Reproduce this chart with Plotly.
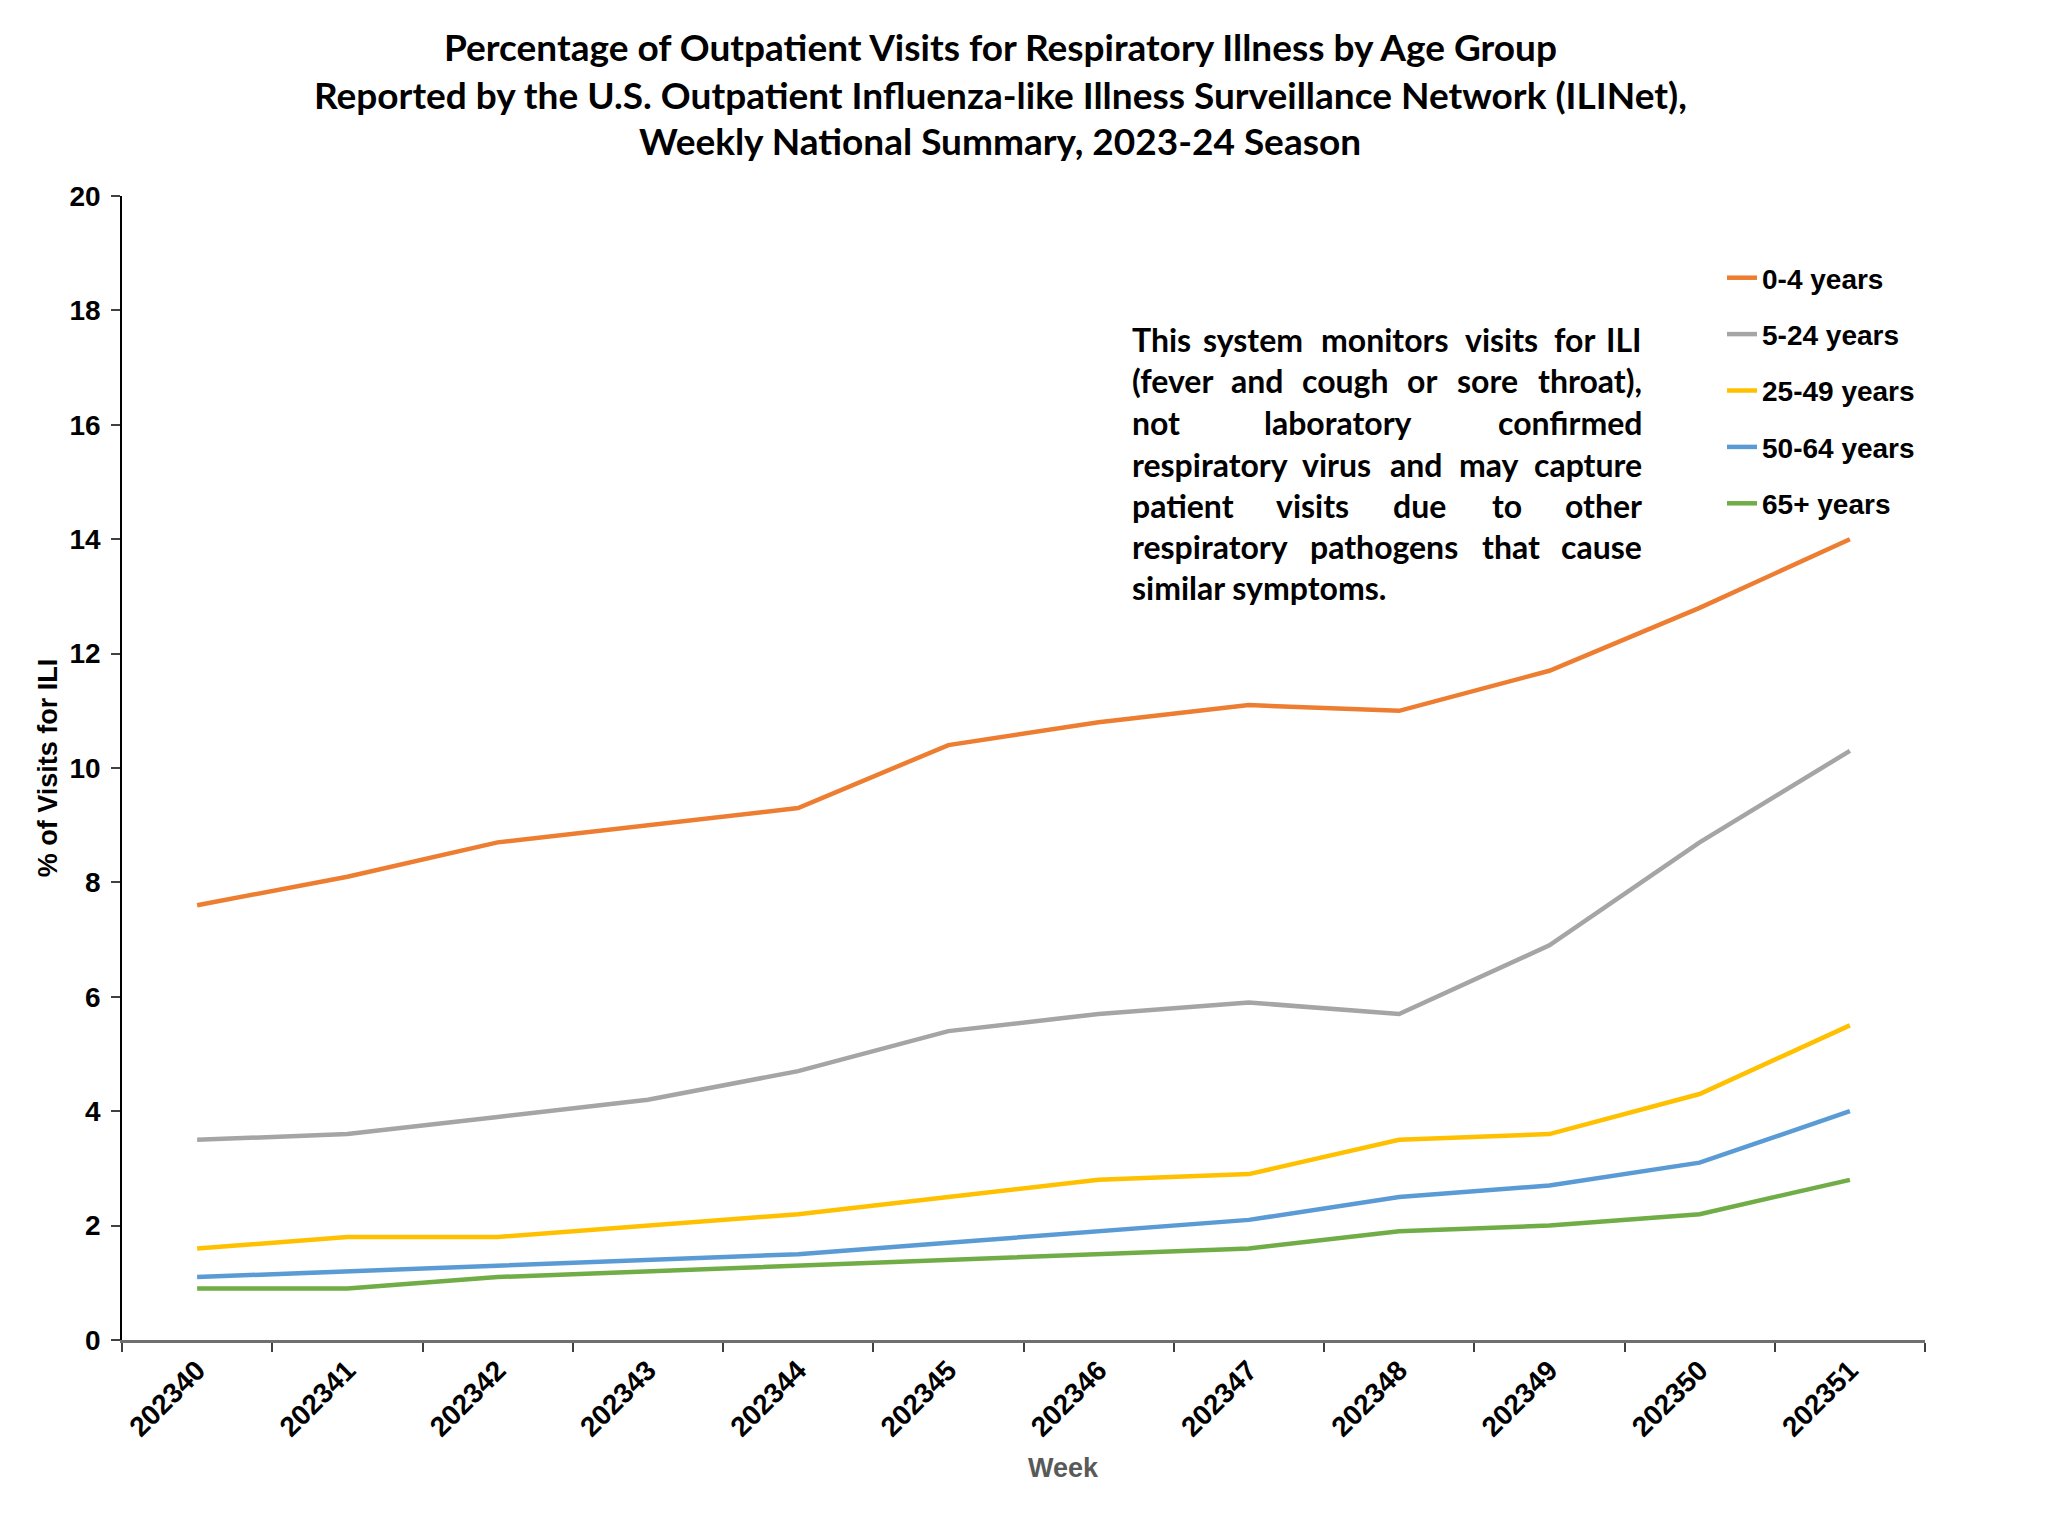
import plotly.graph_objects as go

# ---------------- data ----------------
weeks = ["202340", "202341", "202342", "202343", "202344", "202345",
         "202346", "202347", "202348", "202349", "202350", "202351"]
age_0_4 = [7.6, 8.1, 8.7, 9.0, 9.3, 10.4, 10.8, 11.1, 11.0, 11.7, 12.8, 14.0]
age_5_24 = [3.5, 3.6, 3.9, 4.2, 4.7, 5.4, 5.7, 5.9, 5.7, 6.9, 8.7, 10.3]
age_25_49 = [1.6, 1.8, 1.8, 2.0, 2.2, 2.5, 2.8, 2.9, 3.5, 3.6, 4.3, 5.5]
age_50_64 = [1.1, 1.2, 1.3, 1.4, 1.5, 1.7, 1.9, 2.1, 2.5, 2.7, 3.1, 4.0]
age_65p = [0.9, 0.9, 1.1, 1.2, 1.3, 1.4, 1.5, 1.6, 1.9, 2.0, 2.2, 2.8]
series_names = ["0-4 years", "5-24 years", "25-49 years", "50-64 years", "65+ years"]
y_ticks = [0, 2, 4, 6, 8, 10, 12, 14, 16, 18, 20]

title_lines = [
    "Percentage of Outpatient Visits for Respiratory Illness by Age Group",
    "Reported by the U.S. Outpatient Influenza-like Illness Surveillance Network (ILINet),",
    "Weekly National Summary, 2023-24 Season",
]
note_lines = [
    ["This", "system", "monitors", "visits", "for", "ILI"],
    ["(fever", "and", "cough", "or", "sore", "throat),"],
    ["not", "laboratory", "confirmed"],
    ["respiratory", "virus", "and", "may", "capture"],
    ["patient", "visits", "due", "to", "other"],
    ["respiratory", "pathogens", "that", "cause"],
    ["similar symptoms."],
]

# ---------------- styling / layout ----------------
colors = ["#ED7D31", "#A5A5A5", "#FFC000", "#5B9BD5", "#70AD47"]
OFF = 8                      # default page body margin
W, H = 2048 - 2 * OFF, 1536 - 2 * OFF
# plot area in page pixels
PL, PR, PT, PB = 122, 1925, 196, 1340
ML, MT = PL - OFF, PT - OFF
MR, MB = W - (PR - OFF), H - (PB - OFF)
PW, PH = PR - PL, PB - PT

def px_x(p):
    return (p - PL) / PW

def px_y(p):
    return (PB - p) / PH

ARIAL = "Liberation Sans, Arial, sans-serif"
CAL = "Lato, Open Sans, sans-serif"

fig = go.Figure()
for i, (name, vals) in enumerate(zip(series_names,
                                     [age_0_4, age_5_24, age_25_49, age_50_64, age_65p])):
    fig.add_trace(go.Scatter(
        x=weeks, y=vals, name=name, mode="lines",
        line=dict(color=colors[i], width=4.5),
        legendgroup=name,
    ))

annotations = []
# title lines (page pixel centres)
title_y = [46, 94, 141]
for t, ty in zip(title_lines, title_y):
    annotations.append(dict(
        text=t, x=px_x(1000), y=px_y(ty), xref="paper", yref="paper",
        xanchor="center", yanchor="middle", showarrow=False,
        font=dict(family=CAL, size=37, color="#000000", weight=700),
    ))

# justified note: measured word centres per line (page pixel layout)
note_left, note_right = 1130, 1644
note_line_y = [339, 381, 422, 464, 505, 546, 587]
note_mid_x = [
    [1252.7, 1384.2, 1501.8, 1574.7],
    [1257.0, 1345.4, 1422.0, 1487.2],
    [1338.2],
    [1336.8, 1415.7, 1488.9],
    [1312.4, 1419.7, 1507.0],
    [1384.2, 1511.0],
    [],
]
for words, ly, mids in zip(note_lines, note_line_y, note_mid_x):
    n = len(words)
    for j, w in enumerate(words):
        if j == 0:
            xp, anc = note_left, "left"
        elif j == n - 1:
            xp, anc = note_right, "right"
        else:
            xp, anc = mids[j - 1], "center"
        annotations.append(dict(
            text=w, x=px_x(xp), y=px_y(ly), xref="paper", yref="paper",
            xanchor=anc, yanchor="middle", showarrow=False,
            font=dict(family=CAL, size=32, color="#000000", weight=700),
        ))

annotations.append(dict(
    text="Week", x=px_x(1063), y=px_y(1468), xref="paper", yref="paper",
    xanchor="center", yanchor="middle", showarrow=False,
    font=dict(family=ARIAL, size=27, color="#595959", weight=700),
))

fig.update_layout(
    width=W, height=H,
    margin=dict(l=ML, r=MR, t=MT, b=MB, autoexpand=False),
    paper_bgcolor="white", plot_bgcolor="white",
    showlegend=True,
    legend=dict(
        x=px_x(1722), xanchor="left", y=px_y(253), yanchor="top",
        font=dict(family=ARIAL, size=28, color="#000000", weight=700),
        bgcolor="rgba(0,0,0,0)", traceorder="grouped", tracegroupgap=17,
        itemwidth=30,
    ),
    annotations=annotations,
    xaxis=dict(
        type="category", range=[-0.5, len(weeks) - 0.5],
        tickson="boundaries", ticks="outside", ticklen=9, tickwidth=1.5,
        tickcolor="#404040",
        showline=True, linecolor="#6f6f6f", linewidth=2.5,
        showgrid=False, zeroline=False, tickangle=-45,
        tickfont=dict(family=ARIAL, size=28, color="#000000", weight=700),
    ),
    yaxis=dict(
        range=[0, 20], tickvals=y_ticks, ticks="outside", ticklen=9,
        tickwidth=1.5, tickcolor="#404040",
        showline=True, linecolor="#000000", linewidth=1.5,
        showgrid=False, zeroline=False, ticklabelstandoff=5,
        tickfont=dict(family=ARIAL, size=28, color="#000000", weight=700),
        title=dict(text="% of Visits for ILI", standoff=4,
                   font=dict(family=ARIAL, size=27, color="#000000", weight=700)),
    ),
)

fig.write_html("out.html")
